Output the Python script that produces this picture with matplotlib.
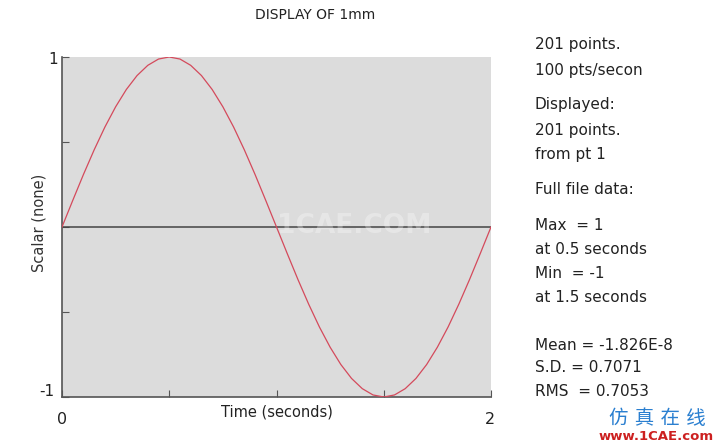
import matplotlib
matplotlib.use("Agg")
import matplotlib.pyplot as plt

plt.rcParams['font.family'] = ['DejaVu Sans', 'Noto Sans CJK SC']

# samples, every 0.05 s
time_s = [i * 0.05 for i in range(41)]
scalar = [0.000, 0.156, 0.309, 0.454, 0.588, 0.707, 0.809, 0.891, 0.951, 0.988,
          1.000, 0.988, 0.951, 0.891, 0.809, 0.707, 0.588, 0.454, 0.309, 0.156,
          0.000, -0.156, -0.309, -0.454, -0.588, -0.707, -0.809, -0.891, -0.951, -0.988,
          -1.000, -0.988, -0.951, -0.891, -0.809, -0.707, -0.588, -0.454, -0.309, -0.156,
          0.000]
x_ticks = [0, 0.5, 1, 1.5, 2]
y_ticks = [-1, -0.5, 0, 0.5, 1]
info_lines = [
    ("201 points.", 45), ("100 pts/secon", 70),
    ("Displayed:", 105), ("201 points.", 130), ("from pt 1", 155),
    ("Full file data:", 190),
    ("Max  = 1", 225), ("at 0.5 seconds", 250), ("Min  = -1", 273), ("at 1.5 seconds", 297),
    ("Mean = -1.826E-8", 345), ("S.D. = 0.7071", 368), ("RMS  = 0.7053", 392),
]

W, H = 720, 447
fig = plt.figure(figsize=(7.2, 4.47), dpi=100)
fig.patch.set_facecolor('white')
ax = fig.add_axes([62 / W, 1 - 397 / H, (491 - 62) / W, (397 - 57) / H])
ax.set_facecolor('#dcdcdc')
ax.plot(time_s, scalar, color='#d44a5c', lw=0.9, zorder=3)
ax.axhline(0, color='#444444', lw=1.1, zorder=2)
ax.set_xlim(0, 2)
ax.set_ylim(-1, 1)
ax.set_xticks(x_ticks)
ax.set_yticks(y_ticks)
ax.tick_params(direction='in', length=5, color='#555555', labelleft=False, labelbottom=False)
for side in ['top', 'right']:
    ax.spines[side].set_visible(False)
for side in ['left', 'bottom']:
    ax.spines[side].set_color('#555555')
    ax.spines[side].set_linewidth(1.2)


def ftxt(x, y, s, **kw):
    fig.text(x / W, 1 - y / H, s, **kw)


ink = '#222222'
ftxt(315, 15, "DISPLAY OF 1mm", ha='center', va='center', fontsize=10, color=ink)
ftxt(53, 59, "1", ha='center', va='center', fontsize=11, color=ink)
ftxt(47, 391, "-1", ha='center', va='center', fontsize=11, color=ink)
ftxt(62, 420, "0", ha='center', va='center', fontsize=11.5, color=ink)
ftxt(490, 420, "2", ha='center', va='center', fontsize=11.5, color=ink)
ftxt(277, 412, "Time (seconds)", ha='center', va='center', fontsize=10.5, color=ink)
ftxt(39, 223, "Scalar (none)", ha='center', va='center', rotation=90, fontsize=10.5, color='#333333')
for s, y in info_lines:
    ftxt(535, y, s, ha='left', va='center', fontsize=11, color=ink)

# watermarks
ftxt(354, 226, "1CAE.COM", ha='center', va='center', fontsize=19, fontweight='bold',
     color='white', alpha=0.3)
ftxt(657, 418, "仿 真 在 线", ha='center', va='center', fontsize=14, color='#2a7fd0')
ftxt(656, 436, "www.1CAE.com", ha='center', va='center', fontsize=9.5, fontweight='bold',
     color='#cc2020')

fig.savefig('out.png', dpi=100)
